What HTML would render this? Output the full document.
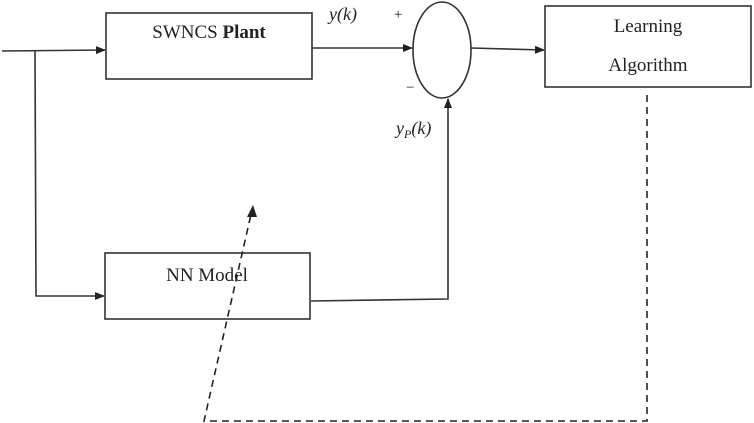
<!DOCTYPE html>
<html><head><meta charset="utf-8"><style>body{margin:0;background:#fff}svg{display:block}</style></head>
<body>
<svg width="754" height="423" viewBox="0 0 754 423" xmlns="http://www.w3.org/2000/svg">
<defs>
<marker id="a" markerWidth="10" markerHeight="8" refX="9" refY="4" orient="auto" markerUnits="userSpaceOnUse"><path d="M0,0 L10,4 L0,8 z" fill="#222"/></marker>
</defs>
<g stroke="#333" stroke-width="1.6" fill="none">
<rect x="106" y="13" width="206" height="66"/>
<rect x="105" y="253" width="205" height="66"/>
<rect x="545" y="6" width="206" height="81"/>
<ellipse cx="442" cy="50" rx="29" ry="48"/>
<line x1="2" y1="51" x2="105" y2="50" marker-end="url(#a)"/>
<polyline points="35,50 36,296 104,296" marker-end="url(#a)"/>
<line x1="312" y1="48" x2="412" y2="48" marker-end="url(#a)"/>
<line x1="471" y1="48" x2="544" y2="50" marker-end="url(#a)"/>
<polyline points="311,301 448,299 448,99" marker-end="url(#a)"/>
</g>
<g stroke="#222" stroke-width="1.6" fill="none" stroke-dasharray="7,5">
<polyline points="647,95 647,421 204,421 252,210"/>
</g>
<path d="M253,205 L247,217 L257,217 z" fill="#222"/>
<g font-family="Liberation Serif, serif" fill="#222">
<text x="209" y="38" font-size="19" text-anchor="middle">SWNCS <tspan font-weight="bold">Plant</tspan></text>
<text x="207" y="281" font-size="19" text-anchor="middle">NN Model</text>
<text x="648" y="32" font-size="19" text-anchor="middle">Learning</text>
<text x="648" y="71" font-size="19" text-anchor="middle">Algorithm</text>
<text x="329" y="20" font-size="18" font-style="italic">y(k)</text>
<text x="393" y="19" font-size="15" font-style="italic">+</text>
<text x="406" y="92" font-size="15">−</text>
<text x="396" y="134" font-size="18" font-style="italic">y<tspan font-size="12" dy="4">P</tspan><tspan dy="-4">(k)</tspan></text>
</g>
</svg>
</body></html>
